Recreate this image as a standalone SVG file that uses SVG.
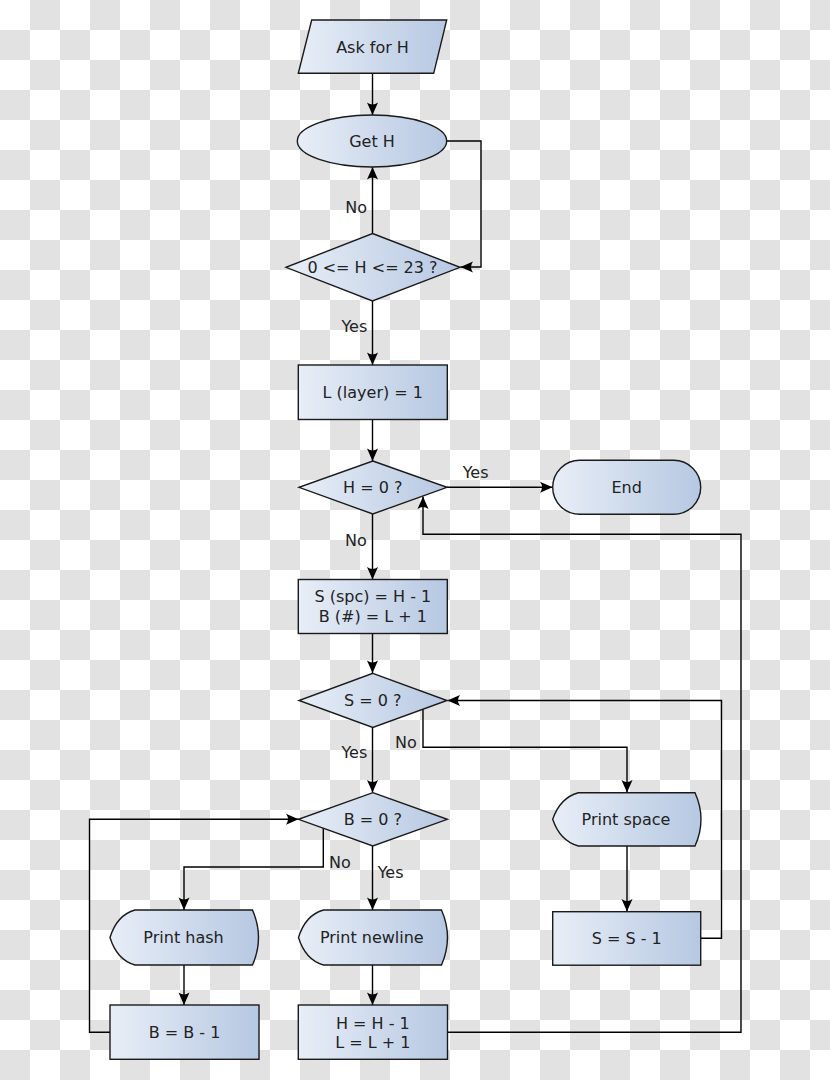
<svg xmlns="http://www.w3.org/2000/svg" width="830" height="1080" viewBox="0 0 830 1080">
<defs>
<pattern id="chk" width="60" height="60" patternUnits="userSpaceOnUse">
<rect width="60" height="60" fill="#ffffff"/>
<rect x="30" y="0" width="30" height="30" fill="#e2e2e2"/>
<rect x="0" y="30" width="30" height="30" fill="#e2e2e2"/>
</pattern>
<linearGradient id="g" x1="0" y1="0" x2="1" y2="0">
<stop offset="0" stop-color="#e8eef7"/>
<stop offset="1" stop-color="#b6c8e2"/>
</linearGradient>
<marker id="ar" markerUnits="userSpaceOnUse" markerWidth="14" markerHeight="12" viewBox="-13 -6 14 12" refX="0" refY="0" orient="auto">
<path d="M0,0 L-12.5,-5.5 Q-8.5,0 -12.5,5.5 Z" fill="#000"/>
</marker>
<style>
.n{fill:url(#g);stroke:#1a1a1a;stroke-width:1.4}
.t{font-family:"DejaVu Sans",sans-serif;font-size:16px;fill:#222;text-anchor:middle}
.l{font-family:"DejaVu Sans",sans-serif;font-size:16px;fill:#222}
.c{fill:none;stroke:#000;stroke-width:1.4;marker-end:url(#ar)}
</style>
</defs>
<rect width="830" height="1080" fill="url(#chk)"/>

<g id="connectors">
<path class="c" d="M372.5,73 V115"/>
<path class="c" d="M372.5,233.5 V167"/>
<path class="c" d="M447,141 H481 V267 H460.5"/>
<path class="c" d="M372.5,301 V365"/>
<path class="c" d="M372.5,419.5 V461"/>
<path class="c" d="M447,487.3 H552.5"/>
<path class="c" d="M372.5,514 V579.5"/>
<path class="c" d="M372.5,633.5 V673"/>
<path class="c" d="M423,709.3 V747.3 H627 V792.5"/>
<path class="c" d="M372.5,727.5 V792.5"/>
<path class="c" d="M323.3,828.2 V867 H184 V910"/>
<path class="c" d="M372.5,846 V910"/>
<path class="c" d="M627,846 V911.5"/>
<path class="c" d="M700.7,938.3 H721.5 V700.5 H447.5"/>
<path class="c" d="M184,965 V1005"/>
<path class="c" d="M372.5,965 V1005"/>
<path class="c" d="M110,1032.3 H89.5 V819.3 H298.5"/>
<path class="c" d="M447.5,1032.3 H741 V534.3 H423 V496.5"/>
</g>

<g id="ask">
<polygon class="n" points="311.7,20 446.7,20 433.7,73.3 298.3,73.3"/>
<text class="t" x="372.5" y="53.3">Ask for H</text>
</g>
<g id="geth">
<ellipse class="n" cx="372" cy="141" rx="74.7" ry="26"/>
<text class="t" x="372" y="146.8">Get H</text>
</g>
<g id="check">
<polygon class="n" points="372.5,233.5 460,267.3 372.5,301 286,267.3"/>
<text class="t" x="372.5" y="273.1">0 &lt;= H &lt;= 23 ?</text>
</g>
<g id="layer">
<rect class="n" x="298.3" y="365" width="149" height="54.5"/>
<text class="t" x="372.8" y="398">L (layer) = 1</text>
</g>
<g id="h0">
<polygon class="n" points="372.8,461 447,487.3 372.8,514 299,487.3"/>
<text class="t" x="372.8" y="493.1">H = 0 ?</text>
</g>
<g id="end">
<rect class="n" x="552.7" y="460.3" width="148" height="54" rx="27" ry="27"/>
<text class="t" x="626.7" y="493.1">End</text>
</g>
<g id="init">
<rect class="n" x="298.3" y="579.5" width="149" height="54"/>
<text class="t" x="372.8" y="602.3">S (spc) = H - 1</text>
<text class="t" x="372.8" y="621.7">B (#) = L + 1</text>
</g>
<g id="s0">
<polygon class="n" points="372.8,673.3 447,700.5 372.8,727.5 299,700.5"/>
<text class="t" x="372.8" y="706.3">S = 0 ?</text>
</g>
<g id="b0">
<polygon class="n" points="372.8,792.7 447.3,819.3 372.8,846 298.5,819.3"/>
<text class="t" x="372.8" y="825.1">B = 0 ?</text>
</g>
<g id="printspace">
<path class="n" d="M578.3,792.7 H695 Q707,819.3 695,846 H578.3 Q560,841 552.7,819.3 Q560,797.7 578.3,792.7 Z"/>
<text class="t" x="626" y="825.1">Print space</text>
</g>
<g id="printhash">
<path class="n" d="M135,910 H252.5 Q264.5,937.5 252.5,965 H135 Q117,960 110,937.5 Q117,915 135,910 Z"/>
<text class="t" x="183.5" y="943.3">Print hash</text>
</g>
<g id="printnewline">
<path class="n" d="M323.5,910 H441.5 Q453.5,937.5 441.5,965 H323.5 Q305.5,960 298.5,937.5 Q305.5,915 323.5,910 Z"/>
<text class="t" x="371.8" y="943.3">Print newline</text>
</g>
<g id="sdec">
<rect class="n" x="552.7" y="911.7" width="148" height="53.5"/>
<text class="t" x="626.7" y="944.2">S = S - 1</text>
</g>
<g id="bdec">
<rect class="n" x="110" y="1005" width="149" height="54.3"/>
<text class="t" x="184.5" y="1038.1">B = B - 1</text>
</g>
<g id="hdec">
<rect class="n" x="298.3" y="1005" width="149.2" height="54.3"/>
<text class="t" x="372.8" y="1029.3">H = H - 1</text>
<text class="t" x="372.8" y="1048.3">L = L + 1</text>
</g>

<g id="labels">
<text class="l" x="367" y="213" text-anchor="end">No</text>
<text class="l" x="367.3" y="331.7" text-anchor="end">Yes</text>
<text class="l" x="462.7" y="477.7">Yes</text>
<text class="l" x="366.7" y="546" text-anchor="end">No</text>
<text class="l" x="416.7" y="748.3" text-anchor="end">No</text>
<text class="l" x="367.3" y="758.3" text-anchor="end">Yes</text>
<text class="l" x="329" y="868.3">No</text>
<text class="l" x="377.7" y="878.3">Yes</text>
</g>
</svg>
